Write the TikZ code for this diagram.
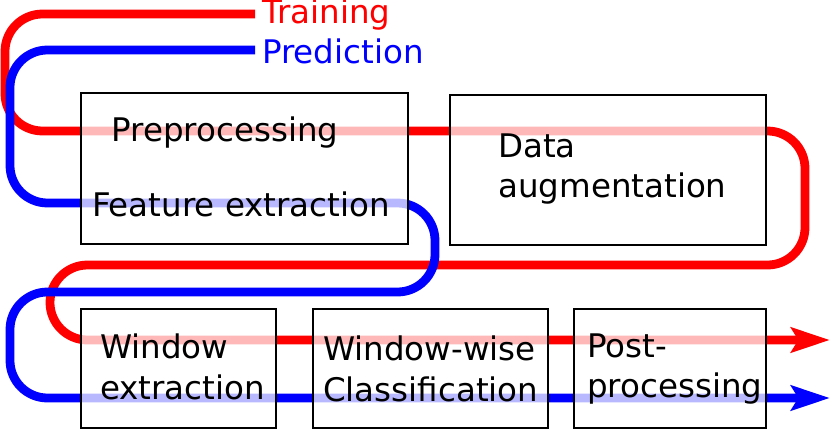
\documentclass[tikz,border=0pt]{standalone}
\usepackage{fontspec}
\setmainfont{DejaVu Sans}
\usetikzlibrary{arrows.meta}
\begin{document}
\begin{tikzpicture}[x=0.02cm,y=-0.02cm]
		\tikzset{stage/.style = {draw,line width=1.2pt,fill=white,fill opacity=0.72,text opacity=1}}
		\tikzset{flow/.style = {line width=5pt,rounded corners=0.75cm}}
		\tikzset{lbl/.style = {font=\fontsize{18.5}{23}\selectfont,align=left}}
		\useasboundingbox (0,0) rectangle (830,429);
		% routes
		\draw[flow,red] (255,14) -- (5,14) -- (5,131) -- (805,131) -- (805,265) -- (50,265) -- (50,340) -- (800,340);
		\draw[flow,blue] (255,50) -- (10,50) -- (10,203) -- (435,203) -- (435,292) -- (10,292) -- (10,398) -- (800,398);
		\draw[red,line width=5pt,-{Stealth[length=22pt,width=14pt,inset=4pt]}] (790,340) -- (830,340);
		\draw[blue,line width=5pt,-{Stealth[length=22pt,width=14pt,inset=4pt]}] (790,398) -- (830,398);
		% boxes
		\draw[stage] (81,93) rectangle (408,244);
		\draw[stage] (450,95) rectangle (766,245);
		\draw[stage] (81,309) rectangle (276,428);
		\draw[stage] (313,309) rectangle (548,428);
		\draw[stage] (574,309) rectangle (766,428);
		% texts
		\node[lbl,anchor=west,text=red] (train) at (256,15) {Training};
		\node[lbl,anchor=west,text=blue] (pred) at (256,51) {Prediction};
		\node[lbl] (pre) at (225,133) {Preprocessing};
		\node[lbl] (feat) at (241,204) {Feature extraction};
		\node[lbl,anchor=west] (aug) at (492,169) {Data\\augmentation};
		\node[lbl,anchor=west] (win) at (94,367) {Window\\extraction};
		\node[lbl,anchor=west] (cls) at (317,369) {Window-wise\\Classification};
		\node[lbl,anchor=west] (post) at (581,369) {Post-\\processing};
	\end{tikzpicture}
\end{document}
